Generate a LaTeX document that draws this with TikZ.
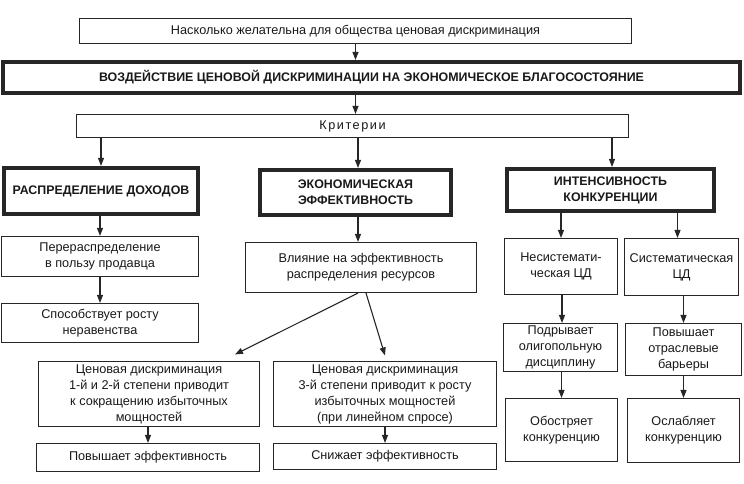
\documentclass[tikz,border=0pt]{standalone}
\usepackage{fontspec}
\setmainfont{Liberation Sans}
\usetikzlibrary{arrows.meta,calc}
\tikzset{
  box/.style={draw=black!85, line width=1.1pt, align=center, inner sep=0pt,
    font=\fontsize{12.7}{16}\selectfont, text=black!90},
  thickbox/.style={draw=black!85, line width=3.6pt, align=center, inner sep=0pt,
    font=\fontsize{12.4}{16}\selectfont\bfseries, text=black!90},
  arr/.style={draw=black!85, line width=1.1pt, -{Triangle[length=8pt,width=6pt]}},
}
\begin{document}
\begin{tikzpicture}[x=1pt,y=-1pt]
\useasboundingbox (0,0) rectangle (744,484);
\node[box, minimum width=552, minimum height=25] (top) at (355.5,31) {Насколько желательна для общества ценовая дискриминация};
\node[thickbox, minimum width=737.5, minimum height=31.5] (main) at (371.5,77.5) {ВОЗДЕЙСТВИЕ ЦЕНОВОЙ ДИСКРИМИНАЦИИ НА ЭКОНОМИЧЕСКОЕ БЛАГОСОСТОЯНИЕ};
\node[box, minimum width=552, minimum height=23] (krit) at (352.5,126) {\addfontfeature{LetterSpace=12}Критерии};
\node[thickbox, minimum width=194.5, minimum height=46.5] (A) at (101,191) {РАСПРЕДЕЛЕНИЕ ДОХОДОВ};
\node[thickbox, minimum width=191.5, minimum height=45.5] (B) at (355.5,192.5) {ЭКОНОМИЧЕСКАЯ\\ЭФФЕКТИВНОСТЬ};
\node[thickbox, minimum width=207.5, minimum height=42.5] (C) at (610.5,190) {ИНТЕНСИВНОСТЬ\\КОНКУРЕНЦИИ};
\node[box, minimum width=197, minimum height=40] (A1) at (100,256.5) {Перераспределение\\в пользу продавца};
\node[box, minimum width=197, minimum height=39] (A2) at (100,323) {Способствует росту\\неравенства};
\node[box, minimum width=231, minimum height=50] (B1) at (361,267.5) {Влияние на эффективность\\распределения ресурсов};
\node[box, minimum width=221, minimum height=65] (B2) at (149,394) {Ценовая дискриминация\\1-й и 2-й степени приводит\\к сокращению избыточных\\мощностей};
\node[box, minimum width=223, minimum height=28] (B3) at (148,457.5) {Повышает эффективность};
\node[box, minimum width=223, minimum height=65] (B4) at (385,394) {Ценовая дискриминация\\3-й степени приводит к росту\\избыточных мощностей\\(при линейном спросе)};
\node[box, minimum width=223, minimum height=26] (B5) at (385,456.5) {Снижает эффективность};
\node[box, minimum width=113, minimum height=56] (C1) at (561,266.5) {Несистемати-\\ческая ЦД};
\node[box, minimum width=114, minimum height=57] (C2) at (681.5,267) {Систематическая\\ЦД};
\node[box, minimum width=114, minimum height=48] (C3) at (560.5,347.5) {Подрывает\\олигопольную\\дисциплину};
\node[box, minimum width=116, minimum height=52] (C4) at (683.5,349.5) {Повышает\\отраслевые\\барьеры};
\node[box, minimum width=112, minimum height=63] (C5) at (561.5,430) {Обостряет\\конкуренцию};
\node[box, minimum width=112, minimum height=64] (C6) at (683.5,430.5) {Ослабляет\\конкуренцию};
% connectors
\draw[arr] (top.south) -- (top.south |- main.north);
\draw[arr] (main.south -| top.south) -- (top.south |- krit.north);
\draw[arr] (krit.south -| A.north) -- (A.north);
\draw[arr] ([xshift=2.5pt]krit.south -| B.north) -- ([xshift=2.5pt]B.north);
\draw[arr] ([xshift=1.5pt]krit.south -| C.north) -- ([xshift=1.5pt]C.north);
\draw[arr] (A.south -| A1.north) -- (A1.north);
\draw[arr] (A1.south) -- (A2.north);
\draw[arr] ([xshift=2.5pt]B.south) -- ([xshift=2.5pt]B.south |- B1.north);
\draw[arr] ([xshift=-3pt]B1.south) -- ($(B2.north)+(86,-6.5)$);
\draw[arr] ([xshift=5pt]B1.south) -- ($(B4.north)+(0,-5.5)$);
\draw[arr] (B2.south -| B3.north) -- (B3.north);
\draw[arr] (B4.south) -- (B5.north);
\draw[arr] (C.south -| C1.north) -- (C1.north);
\draw[arr] ([xshift=-4pt]C.south -| C2.north) -- ([xshift=-4pt]C2.north);
\draw[arr] ([xshift=1pt]C1.south) -- ([xshift=1pt]C1.south |- C3.north);
\draw[arr] (C2.south -| C4.north) -- (C4.north);
\draw[arr] ([xshift=1pt]C3.south) -- ([xshift=1pt]C3.south |- C5.north);
\draw[arr] (C4.south -| C6.north) -- (C6.north);
\end{tikzpicture}
\end{document}
